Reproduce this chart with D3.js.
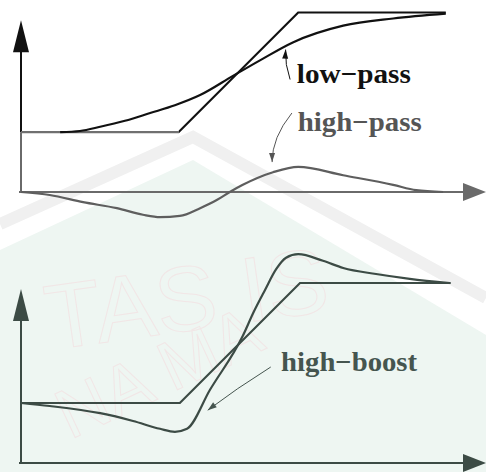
<!DOCTYPE html>
<html>
<head>
<meta charset="utf-8">
<script src="https://cdn.jsdelivr.net/npm/d3@7"></script>
<style>
  body { margin: 0; background: #fff; }
</style>
</head>
<body>
<div id="chart"></div>
<script>
var width = 486
var height = 472

// step input (x along the axis 0..100, y in signal units)
var stepTopX = [0, 35, 61.6, 94.4]
var stepTopY = [1, 1, 3, 3]
var stepBotX = [0, 35.3, 62, 95.5]
var stepBotY = [1, 1, 3, 3]

// low-pass response
var lowPassX = [8.7, 13.1, 17.6, 23.1, 28.7, 34.2, 39.8, 47.1, 53.1, 60.4, 71.6, 82.7, 94.4]
var lowPassY = [1, 1.02, 1.09, 1.19, 1.32, 1.45, 1.62, 1.94, 2.2, 2.5, 2.78, 2.9, 2.98]

// high-pass response
var highPassX = [0, 6.4, 13.8, 21.3, 27.1, 30.9, 35.3, 39.8, 43.6, 46.4, 49.3, 56, 61.6, 71.6, 82.7, 87.8, 93.8]
var highPassY = [0, -0.05, -0.17, -0.27, -0.38, -0.42, -0.4, -0.27, -0.13, 0, 0.12, 0.33, 0.42, 0.28, 0.12, 0.03, 0]

// high-boost response
var highBoostX = [0, 6.4, 17.6, 24.9, 30.9, 34.2, 36.9, 42, 49.3, 51.6, 54.2, 56.7, 58.9, 61.6, 67.1, 71.6, 78.9, 86.4, 95.3]
var highBoostY = [1, 0.95, 0.83, 0.7, 0.57, 0.52, 0.57, 1.22, 2.12, 2.5, 2.88, 3.23, 3.42, 3.48, 3.37, 3.25, 3.15, 3.07, 3.0]

// labels and where their pointers start / end (data units)
var labels = ["low\u2212pass", "high\u2212pass", "high\u2212boost"]
var labelPos = [[61.3, 1.82], [61.5, 1.02], [57.8, 1.53]]
var pointerFrom = [[59.8, 1.88], [60.2, 1.32], [55.5, 1.6]]
var pointerTo = [[58.8, 2.38], [55.8, 0.5], [41.5, 0.88]]

var svg = d3.select("#chart")
    .append("svg")
    .attr("width", width)
    .attr("height", height)

var x = d3.scaleLinear().domain([0, 100]).range([21, 471])
var yTop = d3.scaleLinear().domain([0, 3]).range([192, 12.5])
var yBot = d3.scaleLinear().domain([0, 3]).range([463, 283])

// faint watermark behind the drawing
var wm = svg.append("g")
wm.append("rect").attr("width", width).attr("height", height).attr("fill", "#fff")
wm.append("path")
    .attr("d", "M0,250 L193,160 L486,335 L486,472 L0,472 Z")
    .attr("fill", "#eef6f2")
wm.append("path")
    .attr("d", "M0,224 L193,137 L486,298")
    .attr("fill", "none").attr("stroke", "#f0f0f0").attr("stroke-width", 12)
wm.append("text")
    .attr("transform", "translate(50,350) rotate(-8)")
    .attr("font-family", "Liberation Sans, Arial, sans-serif")
    .attr("font-size", 92)
    .attr("fill", "none")
    .attr("stroke", "#f1e6e6")
    .attr("stroke-width", 1)
    .text("TAS IS")
wm.append("text")
    .attr("transform", "translate(70,440) rotate(-25)")
    .attr("font-family", "Liberation Sans, Arial, sans-serif")
    .attr("font-size", 70)
    .attr("fill", "none")
    .attr("stroke", "#f1e6e6")
    .attr("stroke-width", 1)
    .text("NA MA")

function zip(xs, ys) { return xs.map(function (d, i) { return [d, ys[i]] }) }

function drawAxes(yScale, yTopVal, colUp, colLow, splitVal) {
    var g = svg.append("g")
    var x0 = x(0), y0 = yScale(0)
    var yEnd = yScale(yTopVal)
    // y axis (two tones like the scan)
    g.append("line").attr("x1", x0).attr("x2", x0).attr("y1", yEnd + 20).attr("y2", yScale(splitVal))
        .attr("stroke", colUp).attr("stroke-width", 2)
    g.append("line").attr("x1", x0).attr("x2", x0).attr("y1", yScale(splitVal)).attr("y2", y0)
        .attr("stroke", colLow).attr("stroke-width", 2)
    g.append("path")
        .attr("d", "M" + x0 + "," + yEnd + " L" + (x0 + 8) + "," + (yEnd + 32) + " L" + (x0 - 8) + "," + (yEnd + 32) + " Z")
        .attr("fill", colUp)
    // x axis
    g.append("line").attr("x1", x0 - 2).attr("x2", 468).attr("y1", y0).attr("y2", y0)
        .attr("stroke", colLow).attr("stroke-width", 2)
    g.append("path")
        .attr("d", "M486," + y0 + " L463," + (y0 - 9) + " L463," + (y0 + 9) + " Z")
        .attr("fill", colLow)
}

drawAxes(yTop, 2.87, "#111", "#6a6a6a", 1)
drawAxes(yBot, 2.9, "#3c4b45", "#3c4b45", 1)

var lineTop = d3.line().x(d => x(d[0])).y(d => yTop(d[1]))
var lineBot = d3.line().x(d => x(d[0])).y(d => yBot(d[1]))
var smoothTop = d3.line().x(d => x(d[0])).y(d => yTop(d[1])).curve(d3.curveMonotoneX)
var smoothBot = d3.line().x(d => x(d[0])).y(d => yBot(d[1])).curve(d3.curveMonotoneX)

// gray base, black ramp for the top step
var grad = svg.append("defs").append("linearGradient")
    .attr("id", "stepGrad").attr("gradientUnits", "userSpaceOnUse")
    .attr("x1", 0).attr("x2", width).attr("y1", 0).attr("y2", 0)
grad.append("stop").attr("offset", x(stepTopX[1]) / width).attr("stop-color", "#707070")
grad.append("stop").attr("offset", x(stepTopX[1]) / width).attr("stop-color", "#111")

svg.append("path")
    .attr("d", lineTop(zip(stepTopX, stepTopY)))
    .attr("fill", "none").attr("stroke", "url(#stepGrad)").attr("stroke-width", 2.2)

svg.append("path")
    .attr("d", smoothTop(zip(lowPassX, lowPassY)))
    .attr("fill", "none").attr("stroke", "#111").attr("stroke-width", 2.2)

svg.append("path")
    .attr("d", smoothTop(zip(highPassX, highPassY)))
    .attr("fill", "none").attr("stroke", "#5e5e5e").attr("stroke-width", 2.2)

svg.append("path")
    .attr("d", lineBot(zip(stepBotX, stepBotY)))
    .attr("fill", "none").attr("stroke", "#3c4b45").attr("stroke-width", 2.2)

svg.append("path")
    .attr("d", smoothBot(zip(highBoostX, highBoostY)))
    .attr("fill", "none").attr("stroke", "#3c4b45").attr("stroke-width", 2.2)

// labels
var labelScales = [yTop, yTop, yBot]
var labelColors = ["#111", "#555", "#45554f"]
var labelWidths = [114, 124, 136]

labels.forEach(function (t, i) {
    var ys = labelScales[i]
    svg.append("text")
        .attr("x", x(labelPos[i][0]))
        .attr("y", ys(labelPos[i][1]))
        .attr("font-family", "Liberation Serif, Times New Roman, serif")
        .attr("font-weight", "bold")
        .attr("font-size", 28)
        .attr("fill", labelColors[i])
        .attr("textLength", labelWidths[i])
        .attr("lengthAdjust", "spacingAndGlyphs")
        .text(t)

    // pointer with a small arrowhead
    var p0 = [x(pointerFrom[i][0]), ys(pointerFrom[i][1])]
    var p1 = [x(pointerTo[i][0]), ys(pointerTo[i][1])]
    var mx = (p0[0] + p1[0]) / 2 - (i == 1 ? 10 : 3)
    var my = (p0[1] + p1[1]) / 2
    svg.append("path")
        .attr("d", "M" + p0 + " Q" + mx + "," + my + " " + p1)
        .attr("fill", "none").attr("stroke", labelColors[i]).attr("stroke-width", 1)
    var ang = Math.atan2(p1[1] - my, p1[0] - mx)
    var L = 9, W = 3
    var bx = p1[0] - L * Math.cos(ang), by = p1[1] - L * Math.sin(ang)
    svg.append("path")
        .attr("d", "M" + p1 + " L" + (bx + W * Math.sin(ang)) + "," + (by - W * Math.cos(ang)) +
            " L" + (bx - W * Math.sin(ang)) + "," + (by + W * Math.cos(ang)) + " Z")
        .attr("fill", labelColors[i])
})
</script>
</body>
</html>
